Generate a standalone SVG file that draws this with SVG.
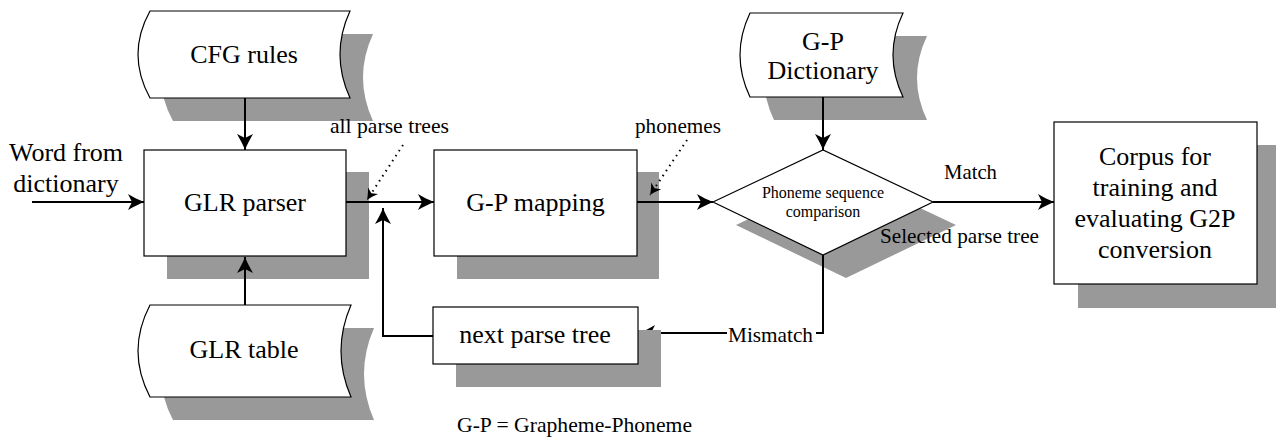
<svg xmlns="http://www.w3.org/2000/svg" width="1276" height="437" viewBox="0 0 1276 437" font-family="'Liberation Serif', 'Times New Roman', serif">
  <style>
    text { font-family: 'Liberation Serif', 'Times New Roman', serif; fill: #000000; }
    .shadow { fill: #999999; stroke: none; }
    .shape { fill: #ffffff; stroke: #000000; stroke-width: 1.2; }
    .big { font-size: 26px; text-anchor: middle; }
    .lbl { font-size: 21px; }
    .small { font-size: 16px; text-anchor: middle; }
    .conn { fill: none; stroke: #000000; stroke-width: 2; }
    .dot { fill: none; stroke: #000000; stroke-width: 2; stroke-dasharray: 1.5 4.5; }
  </style>
  <defs>
    <marker id="arr" viewBox="-20 -10 22 20" markerWidth="22" markerHeight="20" refX="0" refY="0" orient="auto" markerUnits="userSpaceOnUse">
      <path d="M0,0 C-5,-2 -11,-5 -16,-8 L-12,0 L-16,8 C-11,5 -5,2 0,0 Z" fill="#000000"/>
    </marker>
    <marker id="arrs" viewBox="-14 -8 16 16" markerWidth="16" markerHeight="16" refX="0" refY="0" orient="auto" markerUnits="userSpaceOnUse">
      <path d="M0,0 C-4,-1.5 -8,-4 -11,-6 L-8,0 L-11,6 C-8,4 -4,1.5 0,0 Z" fill="#000000"/>
    </marker>
  </defs>

  <g id="cfg-rules">
    <path class="shadow" transform="translate(23,23)" d="M150,11 L350,11 Q330,54.5 350,98 L150,98 Q126,54.5 150,11 Z"/>
    <path class="shape" d="M150,11 L350,11 Q330,54.5 350,98 L150,98 Q126,54.5 150,11 Z"/>
    <text class="big" x="244" y="63">CFG rules</text>
  </g>

  <g id="word-from-dictionary">
    <text font-size="26" text-anchor="middle" x="66" y="161">Word from</text>
    <text font-size="26" text-anchor="middle" x="66" y="192">dictionary</text>
  </g>

  <g id="glr-parser">
    <rect class="shadow" x="167" y="172" width="202" height="107"/>
    <rect class="shape" x="144" y="150" width="202" height="106"/>
    <text class="big" x="245" y="211">GLR parser</text>
  </g>

  <g id="glr-table">
    <path class="shadow" transform="translate(23,23)" d="M150,305 L351,305 Q331,351 351,397 L150,397 Q126,351 150,305 Z"/>
    <path class="shape" d="M150,305 L351,305 Q331,351 351,397 L150,397 Q126,351 150,305 Z"/>
    <text class="big" x="244" y="358">GLR table</text>
  </g>

  <g id="gp-mapping">
    <rect class="shadow" x="457" y="172" width="202" height="107"/>
    <rect class="shape" x="434" y="150" width="203" height="106"/>
    <text class="big" x="535.5" y="211">G-P mapping</text>
  </g>

  <g id="gp-dictionary">
    <path class="shadow" transform="translate(24,23)" d="M750,13 L903,13 Q883,55 903,97 L750,97 Q730,55 750,13 Z"/>
    <path class="shape" d="M750,13 L903,13 Q883,55 903,97 L750,97 Q730,55 750,13 Z"/>
    <text class="big" x="823" y="50">G-P</text>
    <text class="big" x="823" y="79">Dictionary</text>
  </g>

  <g id="phoneme-comparison">
    <polygon class="shadow" points="736,225 846,173 956,225 846,278"/>
    <polygon class="shape" points="713,202 823,150 933,202 823,255"/>
    <text class="small" x="823" y="198">Phoneme sequence</text>
    <text class="small" x="823" y="217">comparison</text>
  </g>

  <g id="corpus">
    <rect class="shadow" x="1078" y="145" width="203" height="163"/>
    <rect class="shape" x="1054" y="122" width="203" height="162"/>
    <text class="big" x="1155" y="165">Corpus for</text>
    <text class="big" x="1155" y="196">training and</text>
    <text class="big" x="1155" y="227">evaluating G2P</text>
    <text class="big" x="1155" y="258">conversion</text>
  </g>

  <g id="connectors">
    <line class="conn" x1="245" y1="98" x2="245" y2="150" marker-end="url(#arr)"/>
    <line class="conn" x1="245" y1="305" x2="245" y2="257" marker-end="url(#arr)"/>
    <line class="conn" x1="32" y1="202" x2="144" y2="202" marker-end="url(#arr)"/>
    <line class="conn" x1="346" y1="202" x2="434" y2="202" marker-end="url(#arr)"/>
    <polyline class="conn" points="433,336 383,336 383,208" marker-end="url(#arr)"/>
    <line class="conn" x1="637" y1="202" x2="713" y2="202" marker-end="url(#arr)"/>
    <line class="conn" x1="823" y1="97" x2="823" y2="150" marker-end="url(#arr)"/>
    <line class="conn" x1="933" y1="202" x2="1054" y2="202" marker-end="url(#arr)"/>
    <polyline class="conn" points="823,255 823,333 816,333"/>
    <line class="conn" x1="727" y1="333" x2="639" y2="333" marker-end="url(#arr)"/>
    <line class="dot" x1="403" y1="145" x2="367" y2="200" marker-end="url(#arrs)"/>
    <line class="dot" x1="687" y1="140" x2="650" y2="195" marker-end="url(#arrs)"/>
    <text class="lbl" x="330" y="133" textLength="119" lengthAdjust="spacingAndGlyphs">all parse trees</text>
    <text class="lbl" x="635" y="133" textLength="86" lengthAdjust="spacingAndGlyphs">phonemes</text>
    <text class="lbl" x="944" y="179" textLength="53" lengthAdjust="spacingAndGlyphs">Match</text>
    <text font-size="22" x="880" y="243" textLength="159" lengthAdjust="spacingAndGlyphs">Selected parse tree</text>
    <text class="lbl" x="728" y="342" textLength="85" lengthAdjust="spacingAndGlyphs">Mismatch</text>
  </g>

  <g id="next-parse-tree">
    <rect class="shadow" x="456" y="330" width="205" height="57"/>
    <rect class="shape" x="433" y="307" width="205" height="57"/>
    <text class="big" x="535" y="343">next parse tree</text>
  </g>

  <g id="legend">
    <text class="lbl" x="457" y="432" textLength="235" lengthAdjust="spacingAndGlyphs">G-P = Grapheme-Phoneme</text>
  </g>
</svg>
